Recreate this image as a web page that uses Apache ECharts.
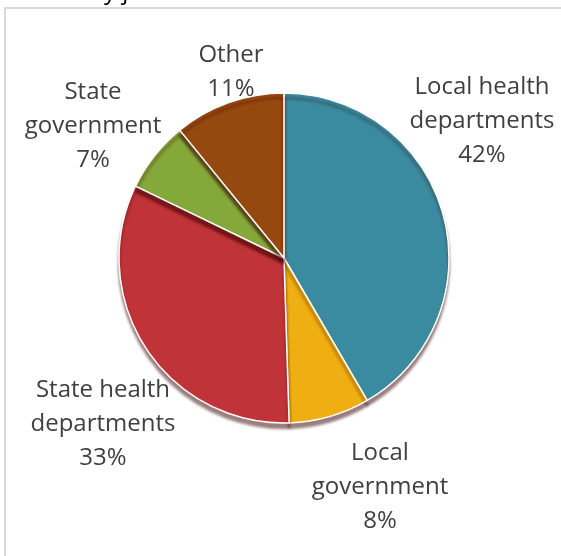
<!DOCTYPE html>
<html>
<head>
<meta charset="utf-8">
<script src="https://cdn.jsdelivr.net/npm/echarts@6/dist/echarts.min.js"></script>
<style>
html,body{margin:0;padding:0;background:#fff;}
#chart{width:561px;height:556px;}
</style>
</head>
<body>
<div id="chart"></div>
<script>
// ---- data ----
const categories = ['Local health\ndepartments', 'Local\ngovernment', 'State health\ndepartments', 'State\ngovernment', 'Other'];
const shares = [42, 8, 33, 7, 11];
// ---- styles ----
const colors = ['#3a8ba0', '#efae12', '#c03338', '#85a83a', '#96490f'];
const labelCenters = [[482, 121], [380, 487], [103, 424], [93, 126], [231, 72]];

const chart = echarts.init(document.getElementById('chart'));
chart.setOption({
  animation: false,
  graphic: [
    { type: 'rect', shape: { x: 5, y: 8, width: 600, height: 600 }, style: { fill: 'none', stroke: '#d9d9d9', lineWidth: 2 }, silent: true },
    { type: 'text', x: 104, y: 4, style: { text: 'y j', fill: '#000', font: '24px "Open Sans"', verticalAlign: 'bottom' }, silent: true }
  ],
  series: [{
    type: 'pie',
    center: [284, 258],
    radius: 165,
    startAngle: 90,
    clockwise: true,
    itemStyle: { borderColor: '#ffffff', borderWidth: 1.5, shadowColor: 'rgba(60,0,0,0.5)', shadowBlur: 3, shadowOffsetY: 5 },
    label: {
      show: true,
      position: 'outside',
      formatter: p => p.name + '\n' + p.value + '%',
      fontFamily: 'Open Sans',
      fontSize: 24,
      lineHeight: 34,
      color: '#404040',
      align: 'center',
      overflow: 'none',
      width: 200
    },
    labelLine: { show: false },
    labelLayout: p => ({ x: labelCenters[p.dataIndex][0], y: labelCenters[p.dataIndex][1], align: 'center', verticalAlign: 'middle' }),
    data: categories.map((c, i) => ({ name: c, value: shares[i], itemStyle: { color: colors[i] } }))
  }]
});
</script>
</body>
</html>
